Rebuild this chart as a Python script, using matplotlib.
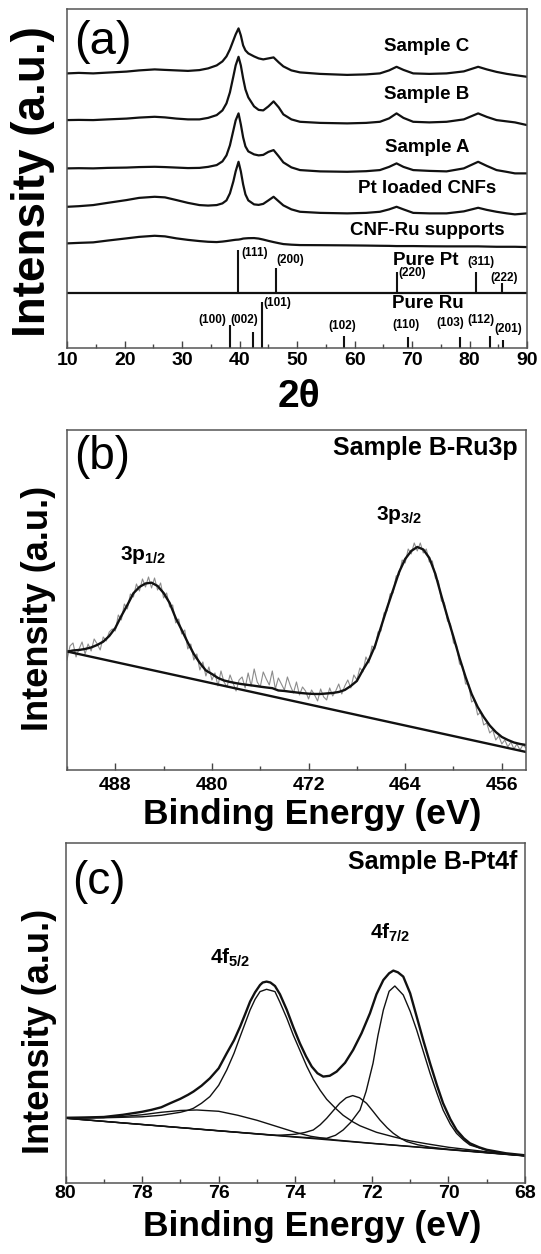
import numpy as np
import matplotlib
matplotlib.use('Agg')
import matplotlib.pyplot as plt
from matplotlib.ticker import MultipleLocator

plt.rcParams['font.family'] = ['Liberation Sans', 'DejaVu Sans']
plt.rcParams['font.weight'] = 'bold'
plt.rcParams['axes.labelweight'] = 'bold'
plt.rcParams['mathtext.fontset'] = 'custom'
plt.rcParams['mathtext.bf'] = 'Liberation Sans:bold'
plt.rcParams['mathtext.rm'] = 'Liberation Sans'

# ---------------- (a) XRD, offset curves (arb. units) ----------------
two_theta = [10, 12, 14.5, 17, 20.3, 22.5, 25.2, 27, 29, 31, 33, 34.5, 36, 37, 37.7, 38.3, 38.9,
             39.3, 39.8, 40.2, 40.6, 41.0, 41.5, 42.5, 43.3, 44.1, 45.0, 45.9, 46.8, 47.6, 49,
             50.5, 54, 58.7, 62, 64.4, 66, 67.3, 68.5, 70.2, 73, 76, 79, 81.5, 83, 84.7, 86.5,
             87.9, 90]
sample_c = [275, 275.5, 275, 275.8, 276.8, 278, 279, 278.5, 278, 277.5, 278.3, 280, 283, 287, 292,
            299, 308, 314, 320, 313, 303, 298, 295, 292, 290, 289, 290, 291, 286, 282, 278,
            276, 274.5, 273.5, 274, 275, 278, 281.6, 278.5, 275, 274.5, 275, 277, 281.6, 279,
            276.5, 274.5, 273.3, 271.6]
sample_b = [228.3, 228.5, 228.3, 229, 229.8, 230.8, 231.6, 231, 229.8, 229, 229, 230.5, 233.3, 238,
            245, 256, 272, 283, 291.6, 283, 270, 259, 251, 242, 238.5, 238, 242, 247, 241, 234,
            229, 226.6, 225.5, 225, 225.5, 226.6, 230, 235, 230.5, 226.6, 226, 226.6, 229, 235,
            231.5, 228.3, 227, 226, 223.3]
sample_a = [180, 180.2, 180, 180.5, 180.8, 181.3, 181.6, 181.3, 180.8, 180.3, 180.5, 181.5, 183.3,
            187, 193, 203, 218, 228, 235, 224, 211, 202, 197, 194, 193, 193.5, 196.5, 198.3, 192,
            186, 181, 178.3, 177, 176.6, 177.2, 178.3, 181.5, 185, 181.5, 178.3, 177.5, 177, 180,
            186.6, 182.5, 178.3, 176.5, 175, 175]
pt_cnf = [141.6, 142.2, 143.3, 145.5, 148.3, 150.5, 151.6, 151, 148.3, 145.5, 143.3, 142.8, 143.3,
          145, 148, 155, 167, 177, 186.6, 177, 164, 154, 148, 144, 143.5, 144.5, 148, 151.6, 147,
          143, 139, 136.6, 135.5, 135, 135.5, 136.6, 139, 141.6, 139, 135.5, 135, 135, 137, 140.6,
          138.5, 136.6, 135, 134, 135]
cnf_ru = [105, 105.5, 106, 107.8, 110, 111.5, 112.6, 112, 110, 108.5, 107.3, 106.6, 106.3, 106.8,
          107.3, 107.8, 108.3, 108.6, 108.8, 109.2, 109.8, 110, 110.2, 110.3, 109.8, 108.8, 107.5,
          106.3, 105.2, 104.3, 103.7, 103.3, 103.2, 103, 102.8, 102.6, 102.5, 102.3, 102.3, 102.3,
          102.1, 102, 102, 102, 101.8, 101.6, 101.6, 101.6, 101.3]
curve_names = ["Sample C", "Sample B", "Sample A", "Pt loaded CNFs", "CNF-Ru supports"]
curve_label_y = [301.6, 254.3, 200.6, 160.3, 118.3]

# reference patterns
pt_base = 55.6
pt_pos = [39.65, 46.3, 67.4, 81.2, 85.7]
pt_top = [98.3, 80, 76.6, 76.6, 65]
pt_hkl = ["(111)", "(200)", "(220)", "(311)", "(222)"]
pt_lab_xy = [(40.35, 95.3), (46.4, 88.3), (67.55, 75.3), (79.7, 86.3), (83.55, 70.3)]
ru_pos = [38.4, 42.3, 43.9, 58.2, 69.3, 78.4, 83.6, 85.9]
ru_top = [23.3, 16.6, 46.6, 12.3, 11.6, 11.6, 12.3, 8.3]
ru_hkl = ["(100)", "(002)", "(101)", "(102)", "(110)", "(103)", "(112)", "(201)"]
ru_lab_xy = [(32.75, 28.3), (38.3, 28.3), (44.05, 45.6), (55.4, 22.3), (66.5, 23.3),
             (74.3, 25.3), (79.55, 28.3), (84.4, 19.3)]

# ---------------- (b) Ru3p XPS ----------------
be_ru = [492.0, 491.5, 491.0, 490.5, 490.0, 489.5, 489.0, 488.5, 488.0, 487.5, 487.0, 486.5, 486.0,
         485.5, 485.0, 484.5, 484.0, 483.5, 483.0, 482.5, 482.0, 481.5, 481.0, 480.5, 480.0, 479.5,
         479.0, 478.5, 478.0, 477.5, 477.0, 476.5, 476.0, 475.5, 475.0, 474.5, 474.0, 473.5, 473.0,
         472.5, 472.0, 471.5, 471.0, 470.5, 470.0, 469.5, 469.0, 468.5, 468.0, 467.5, 467.0, 466.5,
         466.0, 465.5, 465.0, 464.5, 464.0, 463.5, 463.0, 462.5, 462.0, 461.5, 461.0, 460.5, 460.0,
         459.5, 459.0, 458.5, 458.0, 457.5, 457.0, 456.5, 456.0, 455.5, 455.0, 454.5, 454.0]
ru_fit = [118.3, 119.5, 120, 121, 122.5, 125, 128.3, 134, 142, 154, 165, 176.7, 183,
          186.5, 187.3, 184, 177, 167, 152, 140, 127.5, 116, 107, 99.5, 96, 92,
          89.5, 88, 86.8, 85.8, 85, 84.2, 83.3, 82.5, 81.8, 79.5, 79, 78.2, 77.5,
          76.8, 76.3, 76, 76, 76.5, 77, 78, 80, 84, 89, 100, 110, 124,
          143, 162, 180, 198, 211, 219, 223, 220.5, 212, 196, 174, 153, 133,
          112, 93, 76, 63, 53, 44.5, 38, 33, 30, 27.5, 26, 25]
# raw counts, 0.25 eV steps from 492 to 454
ru_raw = [110, 124, 127, 113, 121, 128, 116, 126,
          119, 131, 126, 120, 133, 129, 138, 141,
          139, 155, 150, 166, 161, 176, 173, 186,
          179, 191, 183, 193, 182, 192, 180, 187,
          172, 177, 163, 165, 147, 151, 136, 140,
          121, 126, 110, 116, 100, 108, 94, 103,
          90, 97, 84, 99, 88, 83, 95, 87,
          79, 90, 93, 82, 97, 84, 101, 88,
          83, 98, 91, 85, 99, 81, 92, 86,
          80, 93, 84, 77, 88, 75, 83, 79,
          71, 80, 75, 69, 81, 73, 70, 82,
          74, 79, 86, 76, 84, 90, 82, 95,
          90, 102, 98, 113, 107, 124, 121, 138,
          139, 157, 159, 176, 177, 194, 195, 210,
          207, 221, 216, 227, 219, 227, 217, 221,
          208, 209, 192, 189, 169, 167, 149, 146,
          127, 125, 106, 104, 86, 86, 68, 70,
          55, 58, 45, 47, 37, 40, 30, 34,
          26, 30, 23, 28, 21, 26, 20, 25,
          22]
be_raw = np.linspace(492.0, 454.0, len(ru_raw))
ru_bg_x = [492, 454]
ru_bg_y = [118.5, 18]

# ---------------- (c) Pt4f XPS ----------------
env_x = [80.0, 79.5, 79.0, 78.5, 78.0, 77.75, 77.5, 77.27, 77.0, 76.8, 76.66, 76.45, 76.23, 76.0,
         75.79, 75.6, 75.44, 75.3, 75.18, 75.05, 74.92, 74.85, 74.75, 74.65, 74.53, 74.4, 74.22,
         74.05, 73.88, 73.72, 73.57, 73.42, 73.27, 73.1, 72.92, 72.7, 72.49, 72.27, 72.05, 71.88,
         71.70, 71.55, 71.44, 71.32, 71.18, 71.0, 70.83, 70.65, 70.48, 70.3, 70.14, 69.95, 69.79,
         69.6, 69.44, 69.2, 69.0, 68.5, 68.0]
env_y = [65.5, 65.8, 66.3, 68.5, 71.5, 73.5, 76, 80, 84.5, 88.5, 91.7, 97.5, 105, 115,
         130, 143, 156.7, 170, 181.7, 191, 198.3, 200.8, 201.7, 200.8, 197.3, 189, 173.3,
         156, 140, 127, 116.7, 110, 106.7, 107.5, 111.7, 120.5, 133.3, 150, 170, 189,
         203.3, 210, 212.7, 211, 206.7, 190, 166.7, 142, 120, 98, 80, 64, 53.3,
         45, 40, 36, 33.5, 30, 28]
f52_x = [80, 79, 78, 77.5, 77.0, 76.8, 76.66, 76.45, 76.23, 76.0, 75.79, 75.6, 75.44, 75.3, 75.18,
         75.05, 74.92, 74.75, 74.53, 74.4, 74.22, 74.05, 73.88, 73.7, 73.53, 73.35, 73.18, 72.95,
         72.75, 72.5, 72.31, 71.88, 71.44, 71.01, 70.57, 70.0, 69.0, 68.0]
f52_y = [65.2, 65.5, 66.5, 68, 71, 73, 75, 80, 86.7, 98, 113.3, 130, 146.7, 161, 173.3,
         184, 191.7, 194, 191.7, 181, 165, 148, 133, 117, 104, 93, 84, 75,
         68, 61.5, 57.5, 51, 46.5, 42.5, 39.5, 36, 31.5, 27.8]
broad_x = [80, 79, 78.5, 78, 77.5, 77, 76.57, 76, 75.5, 75.0, 74.75, 74.5, 74.25, 74.0, 73.6,
           73.0, 72.0, 70.0, 68.0]
broad_y = [65.5, 65.8, 66.8, 68.5, 71, 72.8, 73.3, 72, 68, 63, 60, 57, 54, 51, 47,
           43.5, 40, 33.8, 27.5]
small_x = [80, 76, 74.5, 74.0, 73.75, 73.53, 73.35, 73.18, 73.0, 72.84, 72.67, 72.5, 72.32, 72.14,
           71.97, 71.79, 71.6, 71.44, 71.25, 71.09, 70.8, 70.5, 70.0, 68.0]
small_y = [65.1, 52.5, 47.9, 49, 50.8, 53.3, 58.5, 65, 73, 80, 85.5, 87.7, 85.5, 80,
           72, 63.3, 55.5, 50, 45, 41.7, 38.5, 36.3, 34, 27.4]
f72_x = [80, 76, 74, 73.5, 73.18, 72.95, 72.75, 72.55, 72.31, 72.15, 71.97, 71.84, 71.70, 71.55,
         71.4, 71.18, 71.0, 70.83, 70.65, 70.48, 70.3, 70.14, 69.95, 69.79, 69.6, 69.44, 69.0,
         68.5, 68.0]
f72_y = [65.1, 52.6, 46.5, 45.2, 45, 48, 53.3, 61, 73.3, 92, 120, 148, 173.3, 192,
         197.3, 188.3, 172, 153.3, 131, 110, 90, 73.3, 59, 50, 43, 38.3, 33,
         29.5, 27.5]
pt_bg_x = [80, 68]
pt_bg_y = [65, 27.3]

ink = '#111111'


def style(ax, major, minor, pad):
    for s in ax.spines.values():
        s.set_linewidth(1.1)
        s.set_color('#555555')
    ax.xaxis.set_major_locator(MultipleLocator(major))
    ax.xaxis.set_minor_locator(MultipleLocator(minor))
    ax.tick_params(axis='x', which='both', direction='in', labelsize=14, pad=pad,
                   width=1, color='#444444')
    ax.tick_params(axis='x', which='major', length=5)
    ax.tick_params(axis='x', which='minor', length=3)
    ax.set_yticks([])


fig = plt.figure(figsize=(5.41, 12.54), dpi=100)

# (a)
ax1 = fig.add_axes([0.1244, 0.7222, 0.8497, 0.2703])
for ys in [sample_c, sample_b, sample_a, pt_cnf, cnf_ru]:
    ax1.plot(two_theta, ys, color=ink, lw=1.6)
for name, yl in zip(curve_names, curve_label_y):
    ax1.text(72.6, yl, name, ha='center', va='center', fontsize=13.5)
ax1.axhline(pt_base, color=ink, lw=1.6)
ax1.vlines(pt_pos, pt_base, pt_top, color=ink, lw=1.5)
ax1.vlines(ru_pos, 0, ru_top, color=ink, lw=1.5)
for t, (x, y) in zip(pt_hkl, pt_lab_xy):
    ax1.text(x, y, t, ha='left', va='center', fontsize=8.5)
for t, (x, y) in zip(ru_hkl, ru_lab_xy):
    ax1.text(x, y, t, ha='left', va='center', fontsize=8.5)
ax1.text(66.7, 88.3, "Pure Pt", ha='left', va='center', fontsize=13.5)
ax1.text(66.5, 45, "Pure Ru", ha='left', va='center', fontsize=13.5)
ax1.text(11.2, 306, "(a)", ha='left', va='center', fontsize=34, fontweight='normal')
ax1.set_xlim(10, 90)
ax1.set_ylim(0, 339)
style(ax1, 10, 5, 2.5)
ax1.set_xlabel("2θ", fontsize=28, va='center')
ax1.xaxis.set_label_coords(0.505, -0.1437)
ax1.set_ylabel("Intensity (a.u.)", fontsize=33, va='center')
ax1.yaxis.set_label_coords(-0.0746, 0.4935)

# (b)
ax2 = fig.add_axes([0.1238, 0.3860, 0.8484, 0.2711])
ax2.plot(be_raw, ru_raw, color='#8c8c8c', lw=0.8)
ax2.plot(be_ru, ru_fit, color=ink, lw=1.7)
ax2.plot(ru_bg_x, ru_bg_y, color=ink, lw=1.7)
ax2.text(485.7, 215, "3p$_{\\mathbf{1/2}}$", ha='center', va='center', fontsize=15)
ax2.text(464.5, 255, "3p$_{\\mathbf{3/2}}$", ha='center', va='center', fontsize=15)
ax2.text(454.67, 322, "Sample B-Ru3p", ha='right', va='center', fontsize=18)
ax2.text(491.4, 313, "(b)", ha='left', va='center', fontsize=33, fontweight='normal')
ax2.set_xlim(492, 454)
ax2.set_ylim(0, 340)
style(ax2, 8, 4, 5)
ax2.set_xlabel("Binding Energy (eV)", fontsize=25.5, va='center')
ax2.xaxis.set_label_coords(0.534, -0.132)
ax2.set_ylabel("Intensity (a.u.)", fontsize=26, va='center')
ax2.yaxis.set_label_coords(-0.062, 0.475)

# (c)
ax3 = fig.add_axes([0.1211, 0.0564, 0.8494, 0.2711])
ax3.plot(pt_bg_x, pt_bg_y, color=ink, lw=1.0)
ax3.plot(broad_x, broad_y, color=ink, lw=1.0)
ax3.plot(small_x, small_y, color=ink, lw=1.0)
ax3.plot(f52_x, f52_y, color=ink, lw=1.0)
ax3.plot(f72_x, f72_y, color=ink, lw=1.0)
ax3.plot(env_x, env_y, color=ink, lw=1.7)
ax3.text(75.7, 226, "4f$_{\\mathbf{5/2}}$", ha='center', va='center', fontsize=15)
ax3.text(71.53, 251, "4f$_{\\mathbf{7/2}}$", ha='center', va='center', fontsize=15)
ax3.text(68.19, 321.3, "Sample B-Pt4f", ha='right', va='center', fontsize=18)
ax3.text(79.82, 301.3, "(c)", ha='left', va='center', fontsize=33, fontweight='normal')
ax3.set_xlim(80, 68)
ax3.set_ylim(0, 340)
style(ax3, 2, 1, 1)
ax3.set_xlabel("Binding Energy (eV)", fontsize=25.5, va='center')
ax3.xaxis.set_label_coords(0.536, -0.1285)
ax3.set_ylabel("Intensity (a.u.)", fontsize=26, va='center')
ax3.yaxis.set_label_coords(-0.0566, 0.446)

fig.savefig("out.png", dpi=100)
